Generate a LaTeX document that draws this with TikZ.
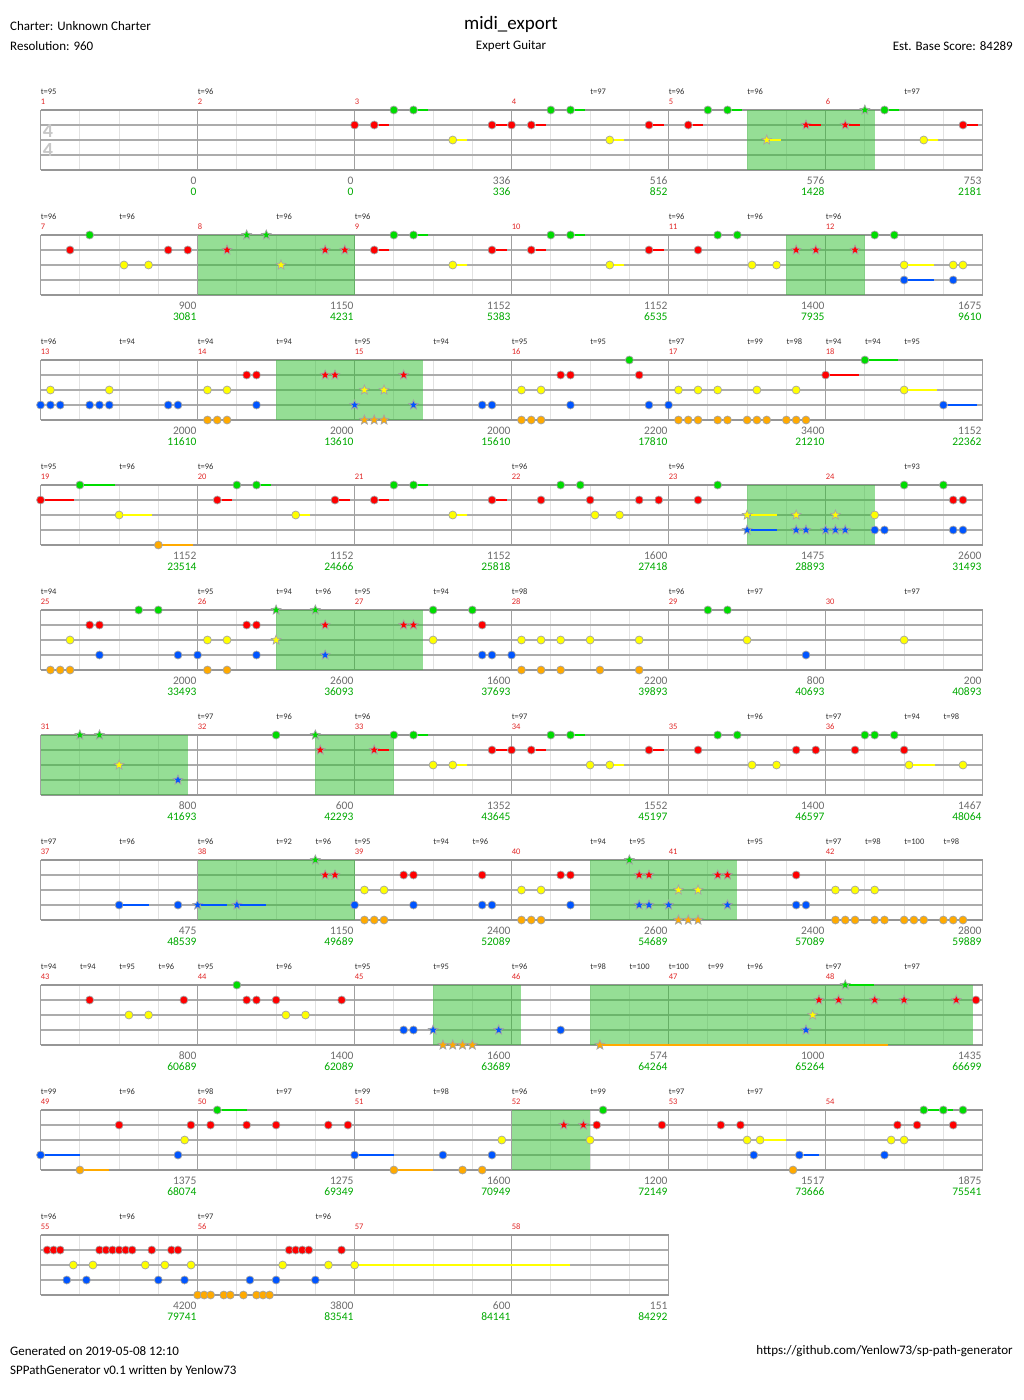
\documentclass[tikz,border=0pt]{standalone}
\usepackage{fontspec}
\setmainfont{Carlito}
\usetikzlibrary{shapes.geometric}

\definecolor{lane0}{RGB}{0,220,0}
\definecolor{lane1}{RGB}{255,0,0}
\definecolor{lane2}{RGB}{255,255,0}
\definecolor{lane3}{RGB}{0,85,255}
\definecolor{lane4}{RGB}{255,170,0}
\definecolor{spfill}{RGB}{45,190,45}
\definecolor{edgegray}{RGB}{150,150,150}
\definecolor{strgray}{RGB}{172,172,172}
\definecolor{bargray}{RGB}{160,160,160}
\definecolor{beatgray}{RGB}{226,226,226}
\definecolor{gemline}{RGB}{165,165,165}
\definecolor{barred}{RGB}{225,40,40}
\definecolor{totgreen}{RGB}{0,170,0}
\definecolor{ptsgray}{RGB}{110,110,110}

% x of a beat (row starts at 40.6, 39.25 per beat)
\newcommand\gems[4]{%
  \foreach \b [count=\i] in {#4}{%
    \pgfmathsetmacro\gx{40.6+39.25*\b}%
    \pgfmathsetmacro\gy{110+125*#1+15*#2}%
    \node[#3,fill=lane#2] (#3-#1-#2-\i) at (\gx,\gy) {};}}
\newcommand\holds[4]{%
  \foreach \b/\s [count=\i] in {#4}{%
    \pgfmathsetmacro\gx{40.6+39.25*\b}%
    \pgfmathsetmacro\gy{110+125*#1+15*#2}%
    \pgfmathsetmacro\hx{\gx+39.25*\s}%
    \node[#3,fill=lane#2] (hold-#3-#1-#2-\i) at (\gx,\gy) {};
    \coordinate (tail-#3-#1-#2-\i) at (\hx,\gy);
    \draw[sus,draw=lane#2] (hold-#3-#1-#2-\i) -- (tail-#3-#1-#2-\i);}}
\newcommand\tempos[2]{%
  \foreach \b/\t [count=\i] in {#2}{%
    \node[tempo] (tempo-#1-\i) at ({40.6+39.25*\b},{92+125*#1}) {t=\t};}}
\newcommand\scores[2]{%
  \foreach \p/\t [count=\j] in {#2}{%
    \pgfmathsetmacro\sx{40.6+157*\j-1}%
    \pgfmathsetmacro\sy{181+125*#1}%
    \node[pts] (pts-#1-\j) at (\sx,\sy) {\p};
    \node[tot] (tot-#1-\j) at (\sx,\sy+11) {\t};}}

\begin{document}
\begin{tikzpicture}[x=1pt,y=-1pt]
\tikzset{
  beatline/.style={draw=beatgray,line width=1pt},
  stringline/.style={draw=strgray,line width=2pt},
  staffedge/.style={draw=edgegray,line width=2.2pt},
  barline/.style={draw=bargray,line width=1.4pt},
  spzone/.style={fill=spfill,fill opacity=0.5},
  gem/.style={circle,draw=gemline,line width=0.7pt,minimum size=8pt,inner sep=0pt},
  spgem/.style={star,star points=5,star point ratio=2.3,draw=gemline,line width=0.7pt,minimum size=10pt,inner sep=0pt},
  sus/.style={line width=2.4pt},
  tempo/.style={anchor=west,inner sep=0pt,text=black!80,font=\fontsize{8.5}{9}\selectfont},
  barno/.style={anchor=west,inner sep=0pt,text=barred,font=\fontsize{8.5}{9}\selectfont},
  pts/.style={anchor=east,inner sep=0pt,text=ptsgray,font=\fontsize{11.5}{12}\selectfont},
  tot/.style={anchor=east,inner sep=0pt,text=totgreen,font=\fontsize{11.5}{12}\selectfont},
  head/.style={inner sep=0pt,font=\fontsize{13}{15}\selectfont},
  timesig/.style={inner sep=0pt,text=black!22,font=\bfseries\fontsize{20}{20}\selectfont}
}
\useasboundingbox (0,0) rectangle (1024,1400);
\fill[white] (0,0) rectangle (1024,1400);

% header and footer
\node[head,anchor=west] (charter) at (10,26) {Charter: Unknown Charter};
\node[head,font=\fontsize{19}{21}\selectfont] (title) at (511,24) {midi\_export};
\node[head,anchor=west] (res) at (10,46) {Resolution: 960};
\node[head] (inst) at (511,46) {Expert Guitar};
\node[head,anchor=east] (est) at (1013,46) {Est. Base Score: 84289};
\node[head,anchor=west] (gen) at (10,1351) {Generated on 2019-05-08 12:10};
\node[head,anchor=west] (ver) at (10,1371) {SPPathGenerator v0.1 written by Yenlow73};
\node[head,anchor=east] (url) at (1013,1351) {https://github.com/Yenlow73/sp-path-generator};

% staves
\foreach \r/\nm in {0/6,1/6,2/6,3/6,4/6,5/6,6/6,7/6,8/6,9/4}{
  \pgfmathsetmacro\yt{110+125*\r}
  \pgfmathsetmacro\yb{\yt+60}
  \pgfmathsetmacro\xe{40.6+157*\nm}
  \pgfmathtruncatemacro\nb{4*\nm-1}
  \foreach \k in {1,...,\nb}{
    \pgfmathsetmacro\bx{40.6+39.25*\k}
    \draw[beatline] (\bx,\yt) -- (\bx,\yb);}
  \foreach \l in {1,2,3}
    \draw[stringline] (40.6,\yt+15*\l) -- (\xe,\yt+15*\l);
  \foreach \j in {0,...,\nm}
    \draw[barline] ({40.6+157*\j},\yt) -- ({40.6+157*\j},\yb);
  \draw[staffedge] (40.6,\yt) -- (\xe,\yt);
  \draw[staffedge] (40.6,\yb) -- (\xe,\yb);
  \foreach \j in {1,...,\nm}{
    \pgfmathtruncatemacro\m{6*\r+\j}
    \node[barno] (bar-\m) at ({40.6+157*(\j-1)},{102+125*\r}) {\m};}
}
\node[timesig] (ts-top) at (48,131.5) {4};
\node[timesig] (ts-bot) at (48,150) {4};

% star power phrases
\foreach \r/\a/\e in {0/18/21.25,1/4/8,1/19/21,2/6/9.75,3/18/21.25,4/6/9.75,
  5/0/3.75,5/7/9,6/4/8,6/14/17.75,7/10/12.25,7/14/23.75,8/12/14}
  \fill[spzone] ({40.6+39.25*\a},{110+125*\r}) rectangle ({40.6+39.25*\e},{170+125*\r});

% tempo marks
\tempos{0}{0/95,4/96,14/97,16/96,18/96,22/97}
\tempos{1}{0/96,2/96,6/96,8/96,16/96,18/96,20/96}
\tempos{2}{0/96,2/94,4/94,6/94,8/95,10/94,12/95,14/95,16/97,18/99,19/98,20/94,21/94,22/95}
\tempos{3}{0/95,2/96,4/96,12/96,16/96,22/93}
\tempos{4}{0/94,4/95,6/94,7/96,8/95,10/94,12/98,16/96,18/97,22/97}
\tempos{5}{4/97,6/96,8/96,12/97,18/96,20/97,22/94,23/98}
\tempos{6}{0/97,2/96,4/96,6/92,7/96,8/95,10/94,11/96,14/94,15/95,18/95,20/97,21/98,22/100,23/98}
\tempos{7}{0/94,1/94,2/95,3/96,4/95,6/96,8/95,10/95,12/96,14/98,15/100,16/100,17/99,18/96,20/97,22/97}
\tempos{8}{0/99,2/96,4/98,6/97,8/99,10/98,12/96,14/99,16/97,18/97}
\tempos{9}{0/96,2/96,4/97,7/96}

% measure scores
\scores{0}{0/0,0/0,336/336,516/852,576/1428,753/2181}
\scores{1}{900/3081,1150/4231,1152/5383,1152/6535,1400/7935,1675/9610}
\scores{2}{2000/11610,2000/13610,2000/15610,2200/17810,3400/21210,1152/22362}
\scores{3}{1152/23514,1152/24666,1152/25818,1600/27418,1475/28893,2600/31493}
\scores{4}{2000/33493,2600/36093,1600/37693,2200/39893,800/40693,200/40893}
\scores{5}{800/41693,600/42293,1352/43645,1552/45197,1400/46597,1467/48064}
\scores{6}{475/48539,1150/49689,2400/52089,2600/54689,2400/57089,2800/59889}
\scores{7}{800/60689,1400/62089,1600/63689,574/64264,1000/65264,1435/66699}
\scores{8}{1375/68074,1275/69349,1600/70949,1200/72149,1517/73666,1875/75541}
\scores{9}{4200/79741,3800/83541,600/84141,151/84292}

% row 1
\gems{0}{0}{gem}{9,13,17}
\holds{0}{0}{gem}{9.5/.375,13.5/.375,17.5/.375,21.5/.375}
\gems{0}{0}{spgem}{21}
\gems{0}{1}{gem}{8,12}
\holds{0}{1}{gem}{8.5/.375,11.5/.375,12.5/.375,15.5/.375,16.5/.375,23.5/.375}
\holds{0}{1}{spgem}{19.5/.375,20.5/.375}
\holds{0}{2}{gem}{10.5/.375,14.5/.375,22.5/.375}
\holds{0}{2}{spgem}{18.5/.375}
% row 2
\gems{1}{0}{gem}{1.25,9,13,17.25,17.75,21.25,21.75}
\holds{1}{0}{gem}{9.5/.375,13.5/.375}
\gems{1}{0}{spgem}{5.25,5.75}
\gems{1}{1}{gem}{0.75,3.25,3.75,16.75}
\holds{1}{1}{gem}{8.5/.375,11.5/.375,12.5/.375,15.5/.375}
\gems{1}{1}{spgem}{4.75,7.25,7.75,19.25,19.75,20.75}
\gems{1}{2}{gem}{2.125,2.75,18.125,18.75,23.25,23.5}
\holds{1}{2}{gem}{10.5/.375,14.5/.375,22/.75}
\gems{1}{2}{spgem}{6.125}
\gems{1}{3}{gem}{23.25}
\holds{1}{3}{gem}{22/.75}
% row 3
\gems{2}{0}{gem}{15}
\holds{2}{0}{gem}{21/.85}
\gems{2}{1}{gem}{5.25,5.5,13.25,13.5,15.25}
\holds{2}{1}{gem}{20/.85}
\gems{2}{1}{spgem}{7.25,7.5,9.25}
\gems{2}{2}{gem}{0.25,1.75,4.25,4.75,12.25,12.75,16.25,16.75,17.25,18.25,19.25}
\holds{2}{2}{gem}{22/.85}
\gems{2}{2}{spgem}{8.25,8.75}
\gems{2}{3}{gem}{0,0.25,0.5,1.25,1.5,1.75,3.25,3.5,5.5,11.25,11.5,13.5,15.5,16}
\holds{2}{3}{gem}{23/.85}
\gems{2}{3}{spgem}{8,9.5}
\gems{2}{4}{gem}{4.25,4.5,4.75,12.25,12.5,12.75,16.25,16.5,16.75,17.25,17.5,18,18.25,18.5,19,19.25,19.5}
\gems{2}{4}{spgem}{8.25,8.5,8.75}
% row 4
\gems{3}{0}{gem}{5,9,13.25,13.75,17.25,22,23}
\holds{3}{0}{gem}{1/.9,5.5/.375,9.5/.375}
\gems{3}{1}{gem}{12.75,14,15.25,15.75,16.75,23.25,23.5}
\holds{3}{1}{gem}{0/.85,4.5/.375,7.5/.375,8.5/.375,11.5/.375}
\gems{3}{2}{gem}{14.125,14.75,21.25}
\holds{3}{2}{gem}{2/.85,6.5/.375,10.5/.375}
\gems{3}{2}{spgem}{19.25,20.25}
\holds{3}{2}{spgem}{18/.75}
\gems{3}{3}{gem}{21.25,21.5,23.25,23.5}
\gems{3}{3}{spgem}{19.25,19.5,20,20.25,20.5}
\holds{3}{3}{spgem}{18/.75}
\holds{3}{4}{gem}{3/.875}
% row 5
\gems{4}{0}{gem}{2.5,3,10,11,17,17.5}
\gems{4}{0}{spgem}{6,7}
\gems{4}{1}{gem}{1.25,1.5,5.25,5.5,11.25}
\gems{4}{1}{spgem}{7.25,9.25,9.5}
\gems{4}{2}{gem}{0.75,4.25,4.75,10,12.25,12.75,13.25,14,15.25,18,22}
\gems{4}{2}{spgem}{6}
\gems{4}{3}{gem}{1.5,3.5,4,5.5,11.25,11.5,12,19.5}
\gems{4}{3}{spgem}{7.25}
\gems{4}{4}{gem}{0.25,0.5,0.75,4.25,4.75,12.25,12.75,13.25,14.25,15.25}
% row 6
\gems{5}{0}{gem}{6,9,13,17.25,17.75,21,21.25,21.75}
\holds{5}{0}{gem}{9.5/.375,13.5/.375}
\gems{5}{0}{spgem}{1,1.5,7}
\gems{5}{1}{gem}{12,16.75,19.25,19.75,20.75,22}
\holds{5}{1}{gem}{11.5/.375,12.5/.375,15.5/.375}
\gems{5}{1}{spgem}{7.125}
\holds{5}{1}{spgem}{8.5/.375}
\gems{5}{2}{gem}{10,14,18.125,18.75,23.5}
\holds{5}{2}{gem}{10.5/.375,14.5/.375,22.125/.66}
\gems{5}{2}{spgem}{2}
\gems{5}{3}{spgem}{3.5}
% row 7
\gems{6}{0}{spgem}{7,15}
\gems{6}{1}{gem}{9.25,9.5,11.25,13.25,13.5,19.25}
\gems{6}{1}{spgem}{7.25,7.5,15.25,15.5,17.25,17.5}
\gems{6}{2}{gem}{8.25,8.75,12.25,12.75,20.25,20.75,21.25}
\gems{6}{2}{spgem}{16.25,16.75}
\gems{6}{3}{gem}{3.5,8,9.5,11.25,11.5,13.5,19.25,19.5}
\holds{6}{3}{gem}{2/.75}
\gems{6}{3}{spgem}{15.25,15.5,16,17.5}
\holds{6}{3}{spgem}{4/.75,5/.75}
\gems{6}{4}{gem}{8.25,8.5,8.75,12.25,12.5,12.75,20.25,20.5,20.75,21.25,21.5,22,22.25,22.5,23,23.25,23.5}
\gems{6}{4}{spgem}{16.25,16.5,16.75}
% row 8
\gems{7}{0}{gem}{5}
\holds{7}{0}{spgem}{20.5/.73}
\gems{7}{1}{gem}{1.25,3.65,5.25,5.5,6,7.67,23.83}
\gems{7}{1}{spgem}{19.83,20.33,21.25,22,23.33}
\gems{7}{2}{gem}{2.25,2.75,6.25,6.75}
\gems{7}{2}{spgem}{19.67}
\gems{7}{3}{gem}{9.25,9.5,13.25}
\gems{7}{3}{spgem}{10,11.67,19.5}
\gems{7}{4}{spgem}{10.25,10.5,10.75,11}
\holds{7}{4}{spgem}{14.25/7.33}
% row 9
\gems{8}{0}{gem}{14.33,23.5}
\holds{8}{0}{gem}{4.5/.75,22.5/.45,23/.25}
\gems{8}{1}{gem}{2,3.83,4.33,5.25,6,7.33,7.83,14.17,15.83,17.33,17.83,21.83,22.33,23.25}
\gems{8}{1}{spgem}{13.33,13.83}
\gems{8}{2}{gem}{3.67,11.75,14,18,21.67,22}
\holds{8}{2}{gem}{18.33/.67}
\gems{8}{3}{gem}{3.5,10.25,11.5,18.17,21.5}
\holds{8}{3}{gem}{0/1,8/1,19.33/.5}
\gems{8}{4}{gem}{10.75,11.25,19.17}
\holds{8}{4}{gem}{1/.75,9/1}
% row 10
\gems{9}{1}{gem}{.167,.333,.5,1.5,1.667,1.833,2,2.167,2.333,2.833,3.333,3.5,6.333,6.5,6.667,6.833,7.667}
\gems{9}{2}{gem}{.833,1.333,2.667,3.167,3.833,6.167,7.333}
\holds{9}{2}{gem}{8/5.5}
\gems{9}{3}{gem}{.667,1.167,3,3.667,5.333,6,7}
\gems{9}{4}{gem}{4,4.167,4.333,4.667,4.833,5.167,5.5,5.667,5.833}
\end{tikzpicture}
\end{document}
